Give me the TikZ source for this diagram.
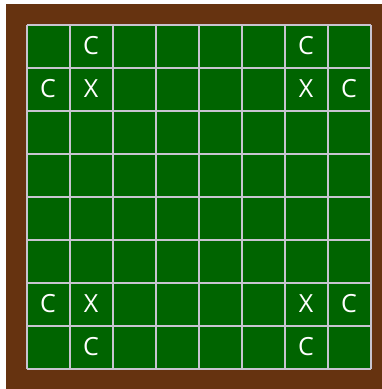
\documentclass[tikz,border=0pt]{standalone}
\usepackage{fontspec}
\setmainfont{Open Sans}
\definecolor{woodbrown}{HTML}{663310}
\definecolor{boardgreen}{HTML}{006400}
\definecolor{gridline}{HTML}{C8C4D0}
\begin{document}
\begin{tikzpicture}[x=1pt,y=-1pt,
  celltext/.style={text=white,font=\fontsize{25}{25}\selectfont,inner sep=0pt,anchor=center}]
\useasboundingbox (0,0) rectangle (382,389);
\fill[woodbrown] (6,4) rectangle (382,389);
\fill[boardgreen] (27,25) rectangle (371,369);
\foreach \i in {0,...,8} {
  \draw[gridline,line width=1.2pt] (27+43*\i,25) -- (27+43*\i,369);
  \draw[gridline,line width=1.2pt] (27,25+43*\i) -- (371,25+43*\i);
}
\foreach \c/\r/\t/\n in {1/0/C/a,6/0/C/b,0/1/C/c,1/1/X/d,6/1/X/e,7/1/C/f,0/6/C/g,1/6/X/h,6/6/X/i,7/6/C/j,1/7/C/k,6/7/C/l} {
  \node[celltext] (\n) at (27+43*\c+21,25+43*\r+21) {\t};
}
\end{tikzpicture}
\end{document}
